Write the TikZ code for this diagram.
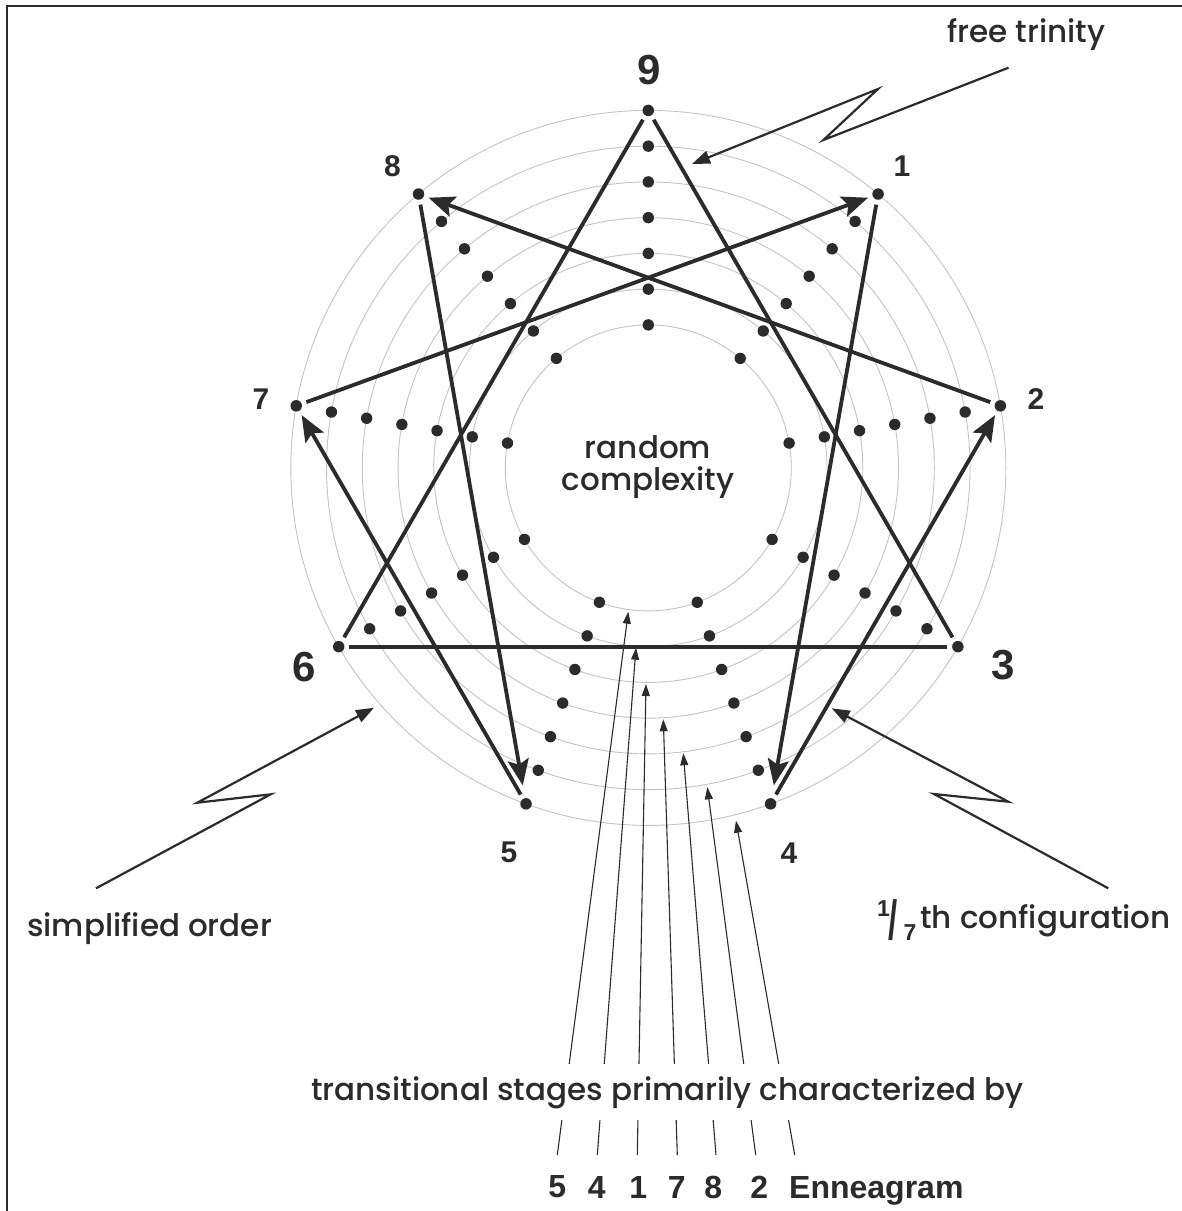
\documentclass[tikz,border=0pt]{standalone}
\usepackage{fontspec}
\usepackage{graphicx}
\newfontfamily\geo{Poppins Medium}
\newfontfamily\hel{Liberation Sans}
\usetikzlibrary{arrows.meta,calc}
\definecolor{ink}{HTML}{2B2B2B}
\definecolor{ringc}{HTML}{C4C4C4}
\begin{document}
\begin{tikzpicture}[x=1pt,y=-1pt,
  every node/.style={text=ink},
  ennpt/.style={circle,fill=ink,minimum size=11.5pt,inner sep=0pt,outer sep=5pt},
  ringline/.style={draw=ringc,line width=0.9pt},
  heavy/.style={draw=ink,line width=3.8pt},
  heavyarr/.style={heavy,-{Stealth[length=26pt,width=21pt,inset=5pt]}},
  zz/.style={draw=ink,line width=2.2pt,line join=miter,-{Triangle[length=18pt,width=13pt]}},
  fine/.style={draw=ink,line width=1.1pt,-{Triangle[length=12pt,width=8pt]}},
  geotxt/.style={font=\geo\fontsize{31}{37}\selectfont,inner sep=0pt},
  numS/.style={font=\hel\bfseries\fontsize{30}{30}\selectfont,inner sep=0pt},
  numL/.style={font=\hel\bfseries\fontsize{42}{42}\selectfont,inner sep=0pt},
  numB/.style={font=\hel\bfseries\fontsize{32}{32}\selectfont,inner sep=0pt},
]
\useasboundingbox (0,0) rectangle (1182,1211);
\fill[white] (0,0) rectangle (1182,1211);
\draw[ink,line width=2pt] (1182,6) -- (7,6) -- (7,1211);

\coordinate (c) at (648.3,467.9);
% rings
\foreach \j in {4,...,10}{\draw[ringline] (c) circle[radius=\j*35.75pt];}
% radial dots
\foreach \k in {0,...,8}{\foreach \j in {4,...,9}{\fill[ink] ($(c)+({40*\k-90}:{\j*35.75})$) circle[radius=5.7pt];}}
% main points
\foreach \k/\n in {0/9,1/1,2/2,3/3,4/4,5/5,6/6,7/7,8/8}{\node[ennpt] (p\n) at ($(c)+({40*\k-90}:357.5)$) {};}

% triangle
\draw[heavy] (p9) -- (p3);
\draw[heavy] (p9) -- (p6);
\draw[heavy] (p3) -- (p6);
% hexad
\draw[heavyarr,shorten >=8pt] (p1) -- (p4);
\draw[heavyarr] (p4) -- (p2);
\draw[heavyarr] (p2) -- (p8);
\draw[heavyarr,shorten >=8pt] (p8) -- (p5);
\draw[heavyarr] (p5) -- (p7);
\draw[heavyarr] (p7) -- (p1);

% point labels
\node[numL] (l9) at (649,70) {9};
\node[numS] (l8) at (392.5,166) {8};
\node[numS] (l1) at (902,166) {1};
\node[numS] (l7) at (261,399) {7};
\node[numS] (l2) at (1036,399) {2};
\node[numL] (l6) at (303.7,667.5) {6};
\node[numL] (l3) at (1003,665) {3};
\node[numS] (l5) at (509,852) {5};
\node[numS] (l4) at (789,853) {4};

% texts
\node[geotxt,anchor=base west] (ft) at (947,42) {free trinity};
\node[geotxt,anchor=base west] (so) at (27,936) {simplified order};
\node[geotxt,anchor=base west] (cf) at (877,928) {\raisebox{12pt}{\hel\bfseries\fontsize{23}{23}\selectfont 1}\kern-1.5pt\raisebox{-11pt}{\hel\bfseries\fontsize{44}{44}\selectfont\scalebox{0.75}[1.25]{/}}\kern6pt\raisebox{-12pt}{\hel\bfseries\fontsize{23}{23}\selectfont 7}\kern4pt th configuration};
\node[geotxt,anchor=base] (rc1) at (648,458) {random};
\node[geotxt,anchor=base] (rc2) at (648,490) {complexity};

% zigzag arrows
\coordinate (ftA) at (1008.5,67.7);
\coordinate (ftB) at (823.4,140);
\coordinate (ftC) at (878,89);
\coordinate (ftD) at (692,164);
\draw[zz] (ftA) -- (ftB) -- (ftC) -- (ftD);
\coordinate (soA) at (96,888.3);
\coordinate (soB) at (270.7,794.3);
\coordinate (soC) at (197.3,802.7);
\coordinate (soD) at (374,707.7);
\draw[zz] (soA) -- (soB) -- (soC) -- (soD);
\coordinate (cfA) at (1108.3,888.3);
\coordinate (cfB) at (934,794);
\coordinate (cfC) at (1008.3,801.7);
\coordinate (cfD) at (831.7,708.3);
\draw[zz] (cfA) -- (cfB) -- (cfC) -- (cfD);

% bottom labels
\node[numB] (n5) at (557.3,1187) {5};
\node[numB] (n4) at (596.7,1187) {4};
\node[numB] (n1) at (638.3,1187) {1};
\node[numB] (n7) at (676.7,1187) {7};
\node[numB] (n8) at (713.3,1187) {8};
\node[numB] (n2) at (759.3,1187) {2};
\node[numB,anchor=base west] (nE) at (789,1198) {Enneagram};

% transitional lines
\coordinate (b1) at (557.3,1155);
\coordinate (b2) at (597.3,1155);
\coordinate (b3) at (637.3,1155);
\coordinate (b4) at (677.3,1155);
\coordinate (b5) at (716,1155);
\coordinate (b6) at (755.7,1155);
\coordinate (b7) at (794.7,1155);
\coordinate (t1) at (628.3,611.7);
\coordinate (t2) at (636,647.7);
\coordinate (t3) at (646,684);
\coordinate (t4) at (663.3,719.3);
\coordinate (t5) at (683.3,753.3);
\coordinate (t6) at (707.3,787.3);
\coordinate (t7) at (736,820.7);
\foreach \i in {1,...,7}{\draw[fine] (b\i) -- (t\i);}
\node[geotxt,anchor=base,fill=white,inner ysep=12pt,inner xsep=4pt] (ts) at (667.5,1100) {transitional stages primarily characterized by};
\end{tikzpicture}
\end{document}
